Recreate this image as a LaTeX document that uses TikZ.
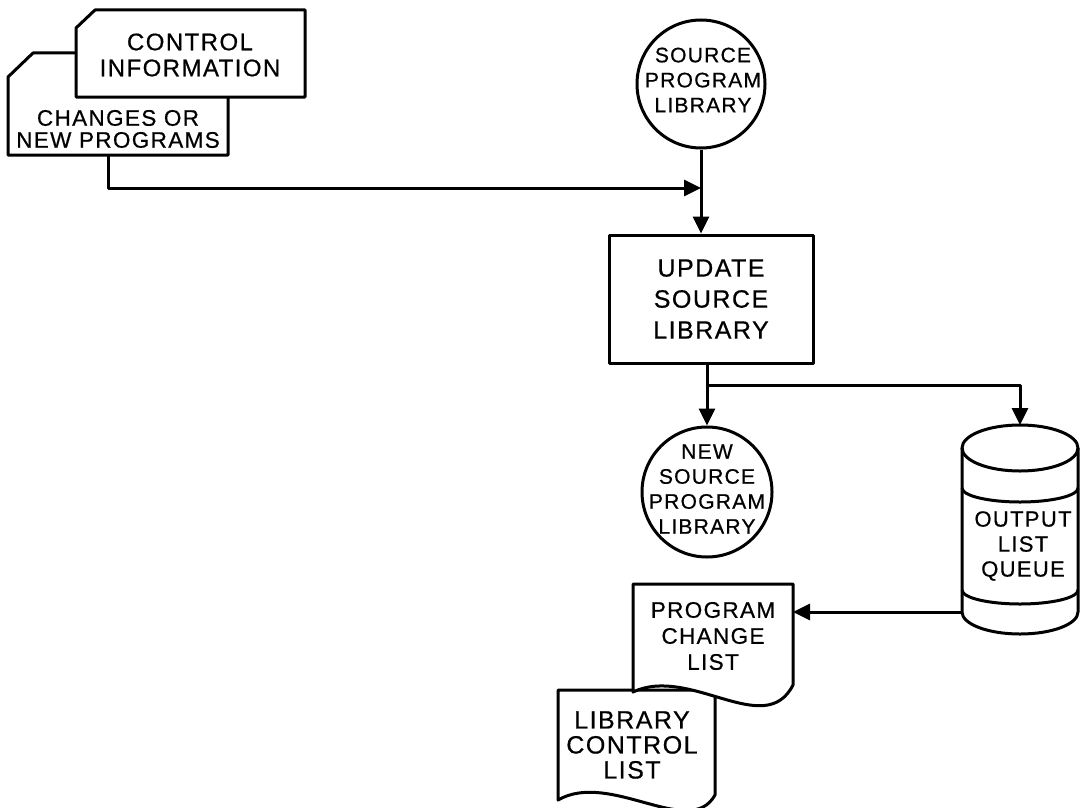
\documentclass[tikz,border=0pt]{standalone}
\usepackage{fontspec}
\setmainfont[LetterSpace=6,FakeBold=0.6]{Liberation Sans}
\usetikzlibrary{arrows.meta}

\newcommand{\fs}[2]{\fontsize{#1}{#2}\selectfont}

\begin{document}
\begin{tikzpicture}[x=1pt, y=-1pt, line width=3pt, line join=round,
  lbl/.style={align=center, inner sep=0pt},
  flow/.style={-{Triangle[length=17pt,width=16pt]}},
  sheet/.style={draw, fill=white}]
\useasboundingbox (0,0) rectangle (1081,808);
\clip (0,0) rectangle (1081,808);

% input cards: changes behind, control information in front
\draw[sheet] (8,77) -- (33,53) -- (228,53) -- (228,155) -- (8,155) -- cycle;
\node[lbl, font=\fs{22.5}{22}] (chg) at (118,129) {CHANGES OR\\NEW PROGRAMS};
\draw[sheet] (76,28) -- (95,10) -- (305,10) -- (305,97) -- (76,97) -- cycle;
\node[lbl, font=\fs{24}{26}] (ctl) at (190,55) {CONTROL\\INFORMATION};
\coordinate (chgout) at (108,155);

% source program library
\node[draw, circle, minimum size=128pt, inner sep=0pt] (src) at (701,84) {};
\node[lbl, font=\fs{21}{25}] (srct) at (703,80) {SOURCE\\PROGRAM\\LIBRARY};

% update step
\node[draw, rectangle, minimum width=204pt, minimum height=128pt, lbl,
      font=\fs{25}{31}] (upd) at (711,299) {UPDATE\\SOURCE\\LIBRARY};

\coordinate (join) at (src.south |- 0,188);
\draw[flow] (src.south) -- (src.south |- upd.north);
\draw[flow] (chgout) |- (join);

% new source program library
\node[draw, circle, minimum size=130pt, inner sep=0pt] (new) at (707,492) {};
\node[lbl, font=\fs{21}{25}] (newt) at (707,489) {NEW\\SOURCE\\PROGRAM\\LIBRARY};

% output list queue (drum)
\def\cx{1020}
\draw (962,448) -- (962,612) arc[start angle=180, end angle=0, x radius=58, y radius=22] -- (1078,448);
\draw (\cx,448) ellipse[x radius=58, y radius=23];
\draw (962,488) arc[start angle=180, end angle=0, x radius=58, y radius=14];
\draw (962,590) arc[start angle=180, end angle=0, x radius=58, y radius=14];
\coordinate (qtop) at (\cx,425);
\coordinate (qout) at (962,612);
\node[lbl, font=\fs{22}{25}] (queue) at (1023,546) {OUTPUT\\LIST\\QUEUE};

% branch from the update step
\coordinate (br) at (707,385);
\draw (upd.south -| br) -- (br);
\draw[flow] (br) -- (new.north);
\draw[flow] (br) -| (qtop);

% library control list (behind)
\draw[sheet] (558,690) -- (715,690) -- (715,795)
  .. controls (690,840) and (610,770) .. (558,800) -- cycle;
\node[lbl, font=\fs{25}{25}] (lcl) at (632,745) {LIBRARY\\CONTROL\\LIST};

% program change list (front)
\draw[sheet] (633,692) -- (633,584) -- (793,584) -- (793,685)
  .. controls (765,740) and (690,665) .. (633,692) -- cycle;
\node[lbl, font=\fs{22.5}{26}] (pcl) at (713,636) {PROGRAM\\CHANGE\\LIST};
\coordinate (pclin) at (793,612);

\draw[flow] (qout) -- (pclin);
\end{tikzpicture}
\end{document}
